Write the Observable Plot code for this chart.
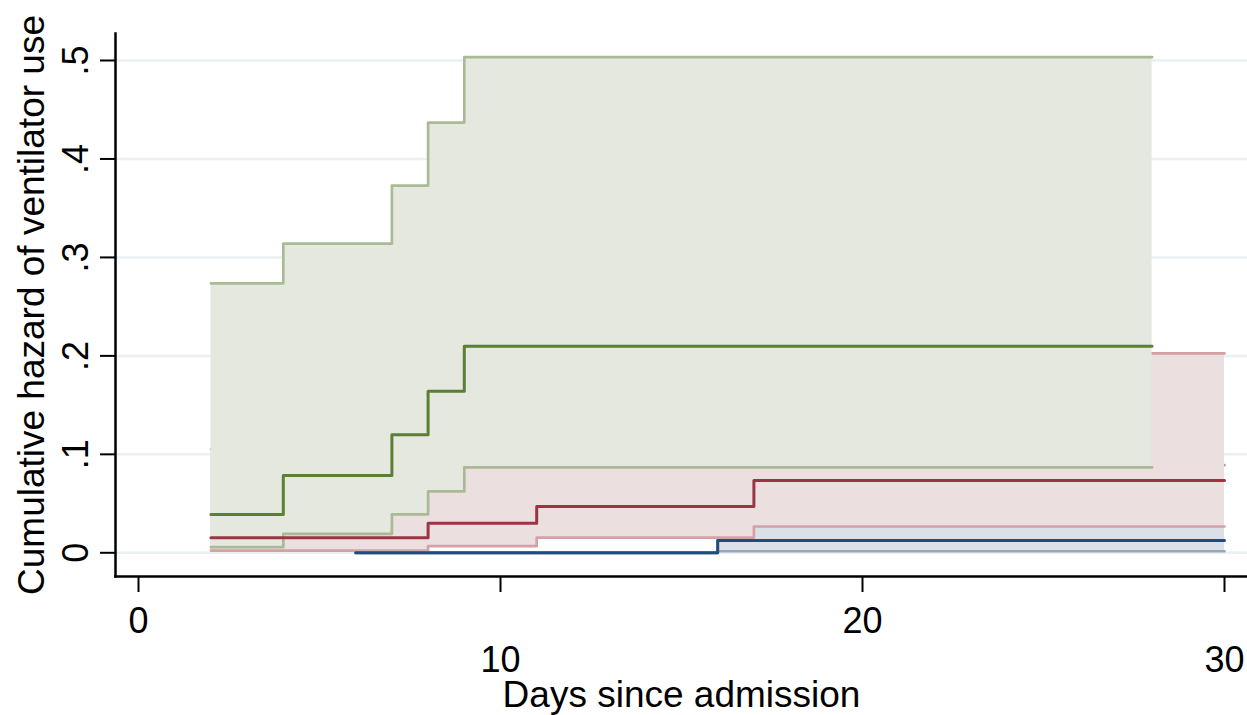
<!DOCTYPE html>
<html><head><meta charset="utf-8">
<script src="https://cdn.jsdelivr.net/npm/d3@7"></script>
<script src="https://cdn.jsdelivr.net/npm/@observablehq/plot@0.6"></script>
<style>html,body{margin:0;padding:0;background:#fff;} svg{display:block}</style>
</head><body><div id="chart"></div>
<script>
// Group 1 (green)
const greenDays = [2, 4, 7, 8, 9, 28];
const greenEst  = [0.039, 0.0786, 0.120, 0.164, 0.2097, 0.2097];
const greenLo   = [0.0057, 0.0193, 0.039, 0.0623, 0.0867, 0.0867];
const greenHi   = [0.2737, 0.314, 0.373, 0.437, 0.5035, 0.5035];
// Group 2 (red)
const redDays = [2, 8, 11, 17, 30];
const redEst  = [0.0152, 0.030, 0.047, 0.0735, 0.0735];
const redLo   = [0.0023, 0.0067, 0.0155, 0.0267, 0.0267];
const redHi   = [0.105, 0.13, 0.16, 0.2025, 0.2025];
// Group 3 (blue)
const blueDays = [6, 16, 30];
const blueEst  = [0, 0.0125, 0.0125];
const blueLo   = [0, 0.0016, 0.0016];
const blueHi   = [0, 0.089, 0.089];

const yTicks = [0, 0.1, 0.2, 0.3, 0.4, 0.5];
const yTickLabels = ["0", ".1", ".2", ".3", ".4", ".5"];
const xTicksLow = [0, 20];
const xTicksHigh = [10, 30];
const xTickLabels = {0: "0", 10: "10", 20: "20", 30: "30"};
const xTitle = "Days since admission";
const yTitle = "Cumulative hazard of ventilator use";

function rows(days, est, lo, hi) {
  return days.map((d, i) => ({day: d, est: est[i], lo: lo[i], hi: hi[i]}));
}
const green = rows(greenDays, greenEst, greenLo, greenHi);
const red = rows(redDays, redEst, redLo, redHi);
const blue = rows(blueDays, blueEst, blueLo, blueHi);

function band(data, fill, line) {
  return [
    Plot.areaY(data, {x: "day", y1: "lo", y2: "hi", curve: "step-after", fill, fillOpacity: 1}),
    Plot.lineY(data, {x: "day", y: "lo", curve: "step-after", stroke: line, strokeWidth: 2.7}),
    Plot.lineY(data, {x: "day", y: "hi", curve: "step-after", stroke: line, strokeWidth: 2.7})
  ];
}
function est(data, color) {
  return Plot.lineY(data, {x: "day", y: "est", curve: "step-after", stroke: color, strokeWidth: 3});
}

const chart = Plot.plot({
  width: 1247, height: 715,
  marginLeft: 115, marginRight: 0, marginTop: 33, marginBottom: 139,
  style: {fontFamily: "'Liberation Sans', Arial, sans-serif", fontSize: "36px", background: "#fff", color: "#000"},
  x: {domain: [0, 30], range: [138, 1224]},
  y: {domain: [0, 0.5], range: [552.3, 60]},
  marks: [
    Plot.ruleY(yTicks, {stroke: "#eaf1f3", strokeWidth: 2.5}),
    ...band(blue, "#dbe0e8", "#98a8bc"),
    ...band(red, "#ecdfe0", "#d3a1a6"),
    ...band(green, "#e5e8df", "#a9bb94"),
    est(blue, "#1e4d7b"),
    est(red, "#9b3543"),
    est(green, "#5b7f33"),
    Plot.frame({anchor: "left", stroke: "#000", strokeWidth: 2.5}),
    Plot.frame({anchor: "bottom", stroke: "#000", strokeWidth: 2.5}),
    Plot.axisY(yTicks, {tickSize: 15, tickPadding: 13, tickRotate: -90, strokeWidth: 2,
      tickFormat: d => yTickLabels[yTicks.indexOf(d)], fontSize: 36, label: null}),
    Plot.axisX(xTicksLow, {tickSize: 16, tickPadding: 15, strokeWidth: 2,
      tickFormat: d => xTickLabels[d], fontSize: 36, label: null}),
    Plot.axisX(xTicksHigh, {tickSize: 16, tickPadding: 54, strokeWidth: 2,
      tickFormat: d => xTickLabels[d], fontSize: 36, label: null}),
    Plot.text([yTitle], {text: d => d, frameAnchor: "left", dx: -72, rotate: -90,
      lineAnchor: "bottom", textAnchor: "middle", fontSize: 37, fill: "#000"}),
    Plot.text([xTitle], {text: d => d, frameAnchor: "bottom", dy: 130,
      lineAnchor: "bottom", textAnchor: "middle", fontSize: 37, fill: "#000"})
  ]
});
document.getElementById("chart").appendChild(chart);
</script>
</body></html>
